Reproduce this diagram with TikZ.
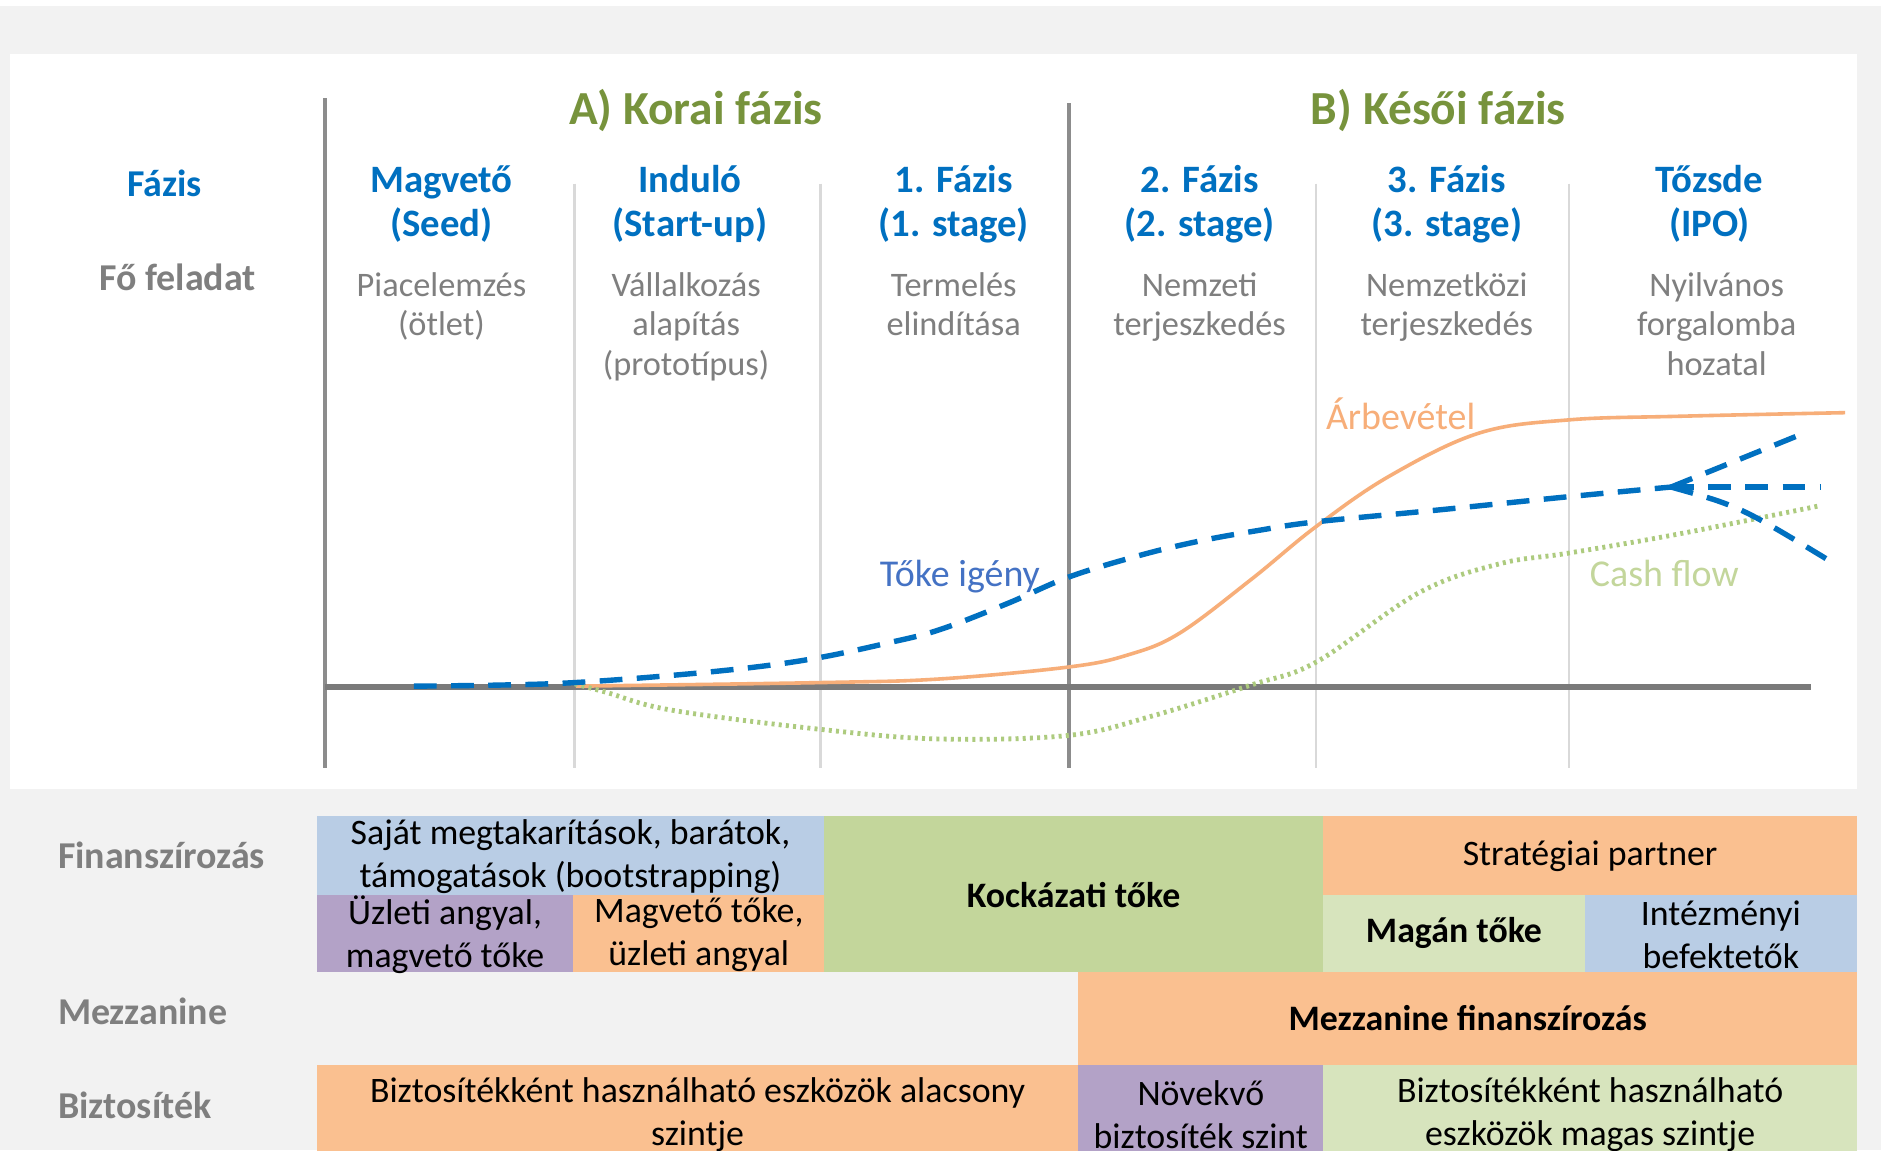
\documentclass[tikz,border=0pt]{standalone}
\usepackage{fontspec}
\setmainfont{Carlito}
\usepackage{tikz}

\definecolor{bggray}{HTML}{F2F2F2}
\definecolor{stageblue}{HTML}{0070C0}
\definecolor{phasegreen}{HTML}{77933C}
\definecolor{txtgray}{HTML}{7F7F7F}
\definecolor{axisgray}{HTML}{7A7A7A}
\definecolor{framegray}{HTML}{8C8C8C}
\definecolor{sepgray}{HTML}{D9D9D9}
\definecolor{revorange}{HTML}{F7AE79}
\definecolor{cashgreen}{HTML}{ADCB7E}
\definecolor{needblue}{HTML}{4472C4}
\definecolor{cashtxt}{HTML}{C3D69B}
\definecolor{cellblue}{HTML}{B9CDE5}
\definecolor{cellpurple}{HTML}{B3A2C7}
\definecolor{cellorange}{HTML}{FAC090}
\definecolor{cellgreen}{HTML}{C3D69B}
\definecolor{celllight}{HTML}{D7E4BD}

\tikzset{
  phase/.style={font=\fontsize{22.5}{27}\selectfont\bfseries, text=phasegreen, anchor=base, inner sep=0},
  stage/.style={font=\fontsize{18.4}{21}\selectfont\bfseries, text=stageblue, align=center, anchor=base, inner sep=0},
  task/.style={font=\fontsize{16.3}{18.8}\selectfont, text=txtgray, align=center, anchor=base, inner sep=0},
  rowhead/.style={font=\fontsize{18}{21}\selectfont\bfseries, text=txtgray, anchor=base, inner sep=0},
  rowlabel/.style={rowhead, anchor=base west},
  curvelabel/.style={font=\fontsize{18}{21}\selectfont, anchor=base west, inner sep=0},
  cell/.style={font=\fontsize{17}{20.5}\selectfont, align=center, inner sep=0},
  frameline/.style={framegray, line width=0.06cm},
  sepline/.style={sepgray, line width=0.04cm},
  revenue/.style={revorange, line width=0.06cm},
  capital/.style={stageblue, line width=0.09cm, dash pattern=on 0.38cm off 0.24cm},
  cashflow/.style={cashgreen, line width=0.08cm, dash pattern=on 0.05cm off 0.07cm},
}

\begin{document}
\begin{tikzpicture}[x=0.02cm, y=-0.02cm]
  \clip (0,0) rectangle (1568,959);
  \fill[bggray] (0,0) rectangle (1568,959);
  \fill[white] (0,0) rectangle (1568,5);
  \fill[white] (8,45) rectangle (1548,658); % chart panel

  % column separators
  \foreach \x in {479,684,1097,1308}
    \draw[sepline] (\x,153) -- (\x,640);
  \draw[frameline] (271,82) -- (271,640);
  \draw[frameline] (891,86) -- (891,640);
  \draw[axisgray, line width=0.1cm] (271,573) -- (1510,573);

  % headings
  \node[phase] (early) at (580,104) {A) Korai fázis};
  \node[phase] (late) at (1199,104) {B) Késői fázis};
  \node[rowhead, text=stageblue] (phaselbl) at (137,164) {Fázis};
  \node[rowhead] (tasklbl) at (148,242) {Fő feladat};

  % stages (base = last line)
  \node[stage] (seed) at (368,197) {Magvető\\(Seed)};
  \node[stage] (startup) at (575,197) {Induló\\(Start-up)};
  \node[stage] (first) at (795,197) {1. Fázis\\(1. stage)};
  \node[stage] (second) at (1000,197) {2. Fázis\\(2. stage)};
  \node[stage] (third) at (1206,197) {3. Fázis\\(3. stage)};
  \node[stage] (ipo) at (1425,197) {Tőzsde\\(IPO)};

  \node[task] (seedtask) at (368,280) {Piacelemzés\\(ötlet)};
  \node[task] (startuptask) at (572,313) {Vállalkozás\\alapítás\\(prototípus)};
  \node[task] (firsttask) at (795,280) {Termelés\\elindítása};
  \node[task] (secondtask) at (1000,280) {Nemzeti\\terjeszkedés};
  \node[task] (thirdtask) at (1206,280) {Nemzetközi\\terjeszkedés};
  \node[task] (ipotask) at (1431,313) {Nyilvános\\forgalomba\\hozatal};

  % curves
  \draw[revenue] plot[smooth, tension=0.6] coordinates {(480,572) (684,569) (783,566) (891,556)
    (940,546) (983,528) (1043,483) (1097,439) (1158,397) (1233,361) (1308,350) (1400,347) (1538,344)};
  \draw[cashflow] plot[smooth, tension=0.6] coordinates {(479,570) (505,577) (560,592) (684,608)
    (783,616) (891,613) (960,597) (1043,571) (1097,552) (1183,494) (1250,470) (1308,461) (1400,445) (1515,422)};
  \draw[capital] plot[smooth, tension=0.6] coordinates {(345,572) (420,571) (479,569) (560,563)
    (630,556) (684,548) (740,536) (783,525) (840,503) (891,481) (950,463) (1000,451) (1050,442)
    (1097,435) (1200,425) (1308,414) (1393,406)};
  \coordinate (split) at (1393,406);
  \coordinate (up) at (1504,361);
  \coordinate (flat) at (1518,406);
  \coordinate (down) at (1526,468);
  \draw[capital] (split) -- (up);
  \draw[capital] (split) -- (flat);
  \draw[capital] (split) .. controls (1450,422) .. (down);

  \node[curvelabel, text=revorange] (revlbl) at (1105,358) {Árbevétel};
  \node[curvelabel, text=needblue] (needlbl) at (733,489) {Tőke igény};
  \node[curvelabel, text=cashtxt] (cashlbl) at (1325,489) {Cash flow};

  % financing table
  \node[rowlabel] (finlbl) at (48,724) {Finanszírozás};
  \node[rowlabel] (mezzlbl) at (48,854) {Mezzanine};
  \node[rowlabel] (colllbl) at (48,932) {Biztosíték};

  \fill[cellblue] (264,680) rectangle (687,746);
  \fill[cellpurple] (264,746) rectangle (478,810);
  \fill[cellorange] (478,746) rectangle (687,810);
  \fill[cellgreen] (687,680) rectangle (1103,810);
  \fill[cellorange] (1103,680) rectangle (1548,746);
  \fill[celllight] (1103,746) rectangle (1321,810);
  \fill[cellblue] (1321,746) rectangle (1548,810);
  \fill[cellorange] (899,810) rectangle (1548,888);
  \fill[cellorange] (264,888) rectangle (899,975);
  \fill[cellpurple] (899,888) rectangle (1103,975);
  \fill[celllight] (1103,888) rectangle (1548,975);

  \node[cell] (own) at (475.5,714) {Saját megtakarítások, barátok,\\támogatások (bootstrapping)};
  \node[cell] (angel) at (371,779) {Üzleti angyal,\\magvető tőke};
  \node[cell] (seedcap) at (582.5,779) {Magvető tőke,\\üzleti angyal};
  \node[cell, font=\fontsize{17}{20.5}\selectfont\bfseries] (venture) at (895,746) {Kockázati tőke};
  \node[cell] (strategic) at (1325.5,714) {Stratégiai partner};
  \node[cell, font=\fontsize{17}{20.5}\selectfont\bfseries] (private) at (1212,778) {Magán tőke};
  \node[cell] (institutional) at (1434.5,779) {Intézményi\\befektetők};
  \node[cell, font=\fontsize{17}{20.5}\selectfont\bfseries] (mezzfin) at (1223.5,849) {Mezzanine finanszírozás};
  \node[cell] (lowcoll) at (581.5,929) {Biztosítékként használható eszközök alacsony\\szintje};
  \node[cell] (growcoll) at (1001,929) {Növekvő\\biztosíték szint};
  \node[cell] (highcoll) at (1325.5,929) {Biztosítékként használható\\eszközök magas szintje};
\end{tikzpicture}
\end{document}
